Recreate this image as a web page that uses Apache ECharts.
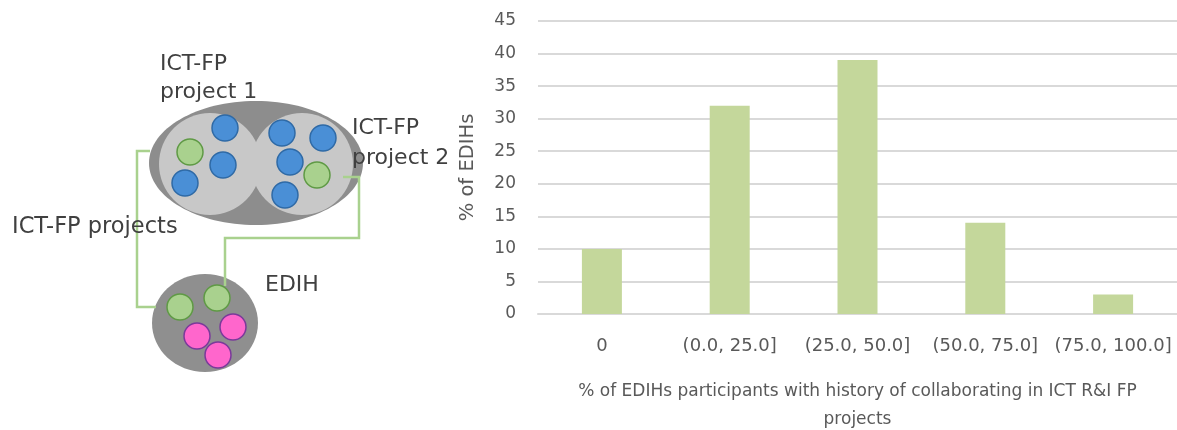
<!DOCTYPE html>
<html>
<head>
<meta charset="utf-8">
<title>EDIH participants with ICT R&amp;I FP history</title>
<script src="https://cdn.jsdelivr.net/npm/echarts@6/dist/echarts.min.js"></script>
<style>
  html, body { margin: 0; padding: 0; background: #ffffff; }
  #chart { width: 1177px; height: 430px; }
</style>
</head>
<body>
<div id="chart"></div>
<script>
// Bar chart data
const categories = ['0', '(0.0, 25.0]', '(25.0, 50.0]', '(50.0, 75.0]', '(75.0, 100.0]'];
const shareOfEdihs = [10, 32, 39, 14, 3];
const yMin = 0;
const yMax = 45;
const yStep = 5;

const xTitle = '% of EDIHs participants with history of collaborating in ICT R&I FP\nprojects';
const yTitle = '% of EDIHs';

// Schematic on the left: two ICT-FP projects sharing members with one EDIH
const FONT = 'DejaVu Sans';
const BLUE = { fill: '#4a8fd6', stroke: '#2f6aa6' };
const GREEN = { fill: '#a9d18e', stroke: '#5f9a45' };
const PINK = { fill: '#ff66cc', stroke: '#7a3a9a' };
const MEMBER_R = 13;

const projectMembers = [
  // project 1
  { cx: 225, cy: 128, c: BLUE }, { cx: 190, cy: 152, c: GREEN },
  { cx: 223, cy: 165, c: BLUE }, { cx: 185, cy: 183, c: BLUE },
  // project 2
  { cx: 282, cy: 133, c: BLUE }, { cx: 323, cy: 138, c: BLUE },
  { cx: 290, cy: 162, c: BLUE }, { cx: 317, cy: 175, c: GREEN },
  { cx: 285, cy: 195, c: BLUE }
];
const edihMembers = [
  { cx: 180, cy: 307, c: GREEN }, { cx: 217, cy: 298, c: GREEN },
  { cx: 233, cy: 327, c: PINK }, { cx: 197, cy: 336, c: PINK },
  { cx: 218, cy: 355, c: PINK }
];

function member(m) {
  return {
    type: 'circle',
    shape: { cx: m.cx, cy: m.cy, r: MEMBER_R },
    style: { fill: m.c.fill, stroke: m.c.stroke, lineWidth: 1.5 },
    silent: true
  };
}

function label(text, x, y, size) {
  return {
    type: 'text',
    x: x, y: y,
    style: {
      text: text, fill: '#404040', font: size + 'px "' + FONT + '"',
      textAlign: 'left', textVerticalAlign: 'middle'
    },
    silent: true
  };
}

const link = { stroke: '#a9d18e', lineWidth: 2.5, fill: null };

const diagram = [
  // project cluster
  { type: 'ellipse', shape: { cx: 256, cy: 163, rx: 107, ry: 62 }, style: { fill: '#8d8d8d' }, silent: true },
  { type: 'circle', shape: { cx: 210, cy: 164, r: 51 }, style: { fill: '#c8c8c8' }, silent: true },
  { type: 'circle', shape: { cx: 302, cy: 164, r: 51 }, style: { fill: '#c8c8c8' }, silent: true },
  // EDIH
  { type: 'ellipse', shape: { cx: 205, cy: 323, rx: 53, ry: 49 }, style: { fill: '#8f8f8f' }, silent: true },
  // connections
  { type: 'polyline', shape: { points: [[150, 151], [137, 151], [137, 307], [156, 307]] }, style: link, silent: true },
  { type: 'polyline', shape: { points: [[343, 177], [359, 177], [359, 238], [225, 238], [225, 286]] }, style: link, silent: true }
]
  .concat(projectMembers.map(member))
  .concat(edihMembers.map(member))
  .concat([
    label('ICT-FP', 160, 64, 22),
    label('project 1', 160, 92, 22),
    label('ICT-FP', 352, 128, 22),
    label('project 2', 352, 158, 22),
    label('ICT-FP projects', 12, 227, 22.5),
    label('EDIH', 265, 285, 22)
  ]);

const chart = echarts.init(document.getElementById('chart'), null, { renderer: 'canvas' });

chart.setOption({
  animation: false,
  backgroundColor: '#ffffff',
  textStyle: { fontFamily: FONT },
  grid: {
    left: 538, right: 0, top: 21, bottom: 116,
    containLabel: false,
    outerBoundsMode: 'none'
  },
  xAxis: {
    type: 'category',
    data: categories,
    axisTick: { show: false },
    axisLine: { lineStyle: { color: '#d9d9d9', width: 2 } },
    axisLabel: { margin: 23, interval: 0, color: '#595959', fontFamily: FONT, fontSize: 18 },
    name: xTitle,
    nameLocation: 'middle',
    nameGap: 64,
    nameTextStyle: { color: '#595959', fontFamily: FONT, fontSize: 17, lineHeight: 28 }
  },
  yAxis: {
    type: 'value',
    min: yMin,
    max: yMax,
    interval: yStep,
    axisLine: { show: false },
    axisTick: { show: false },
    splitLine: { lineStyle: { color: '#d9d9d9', width: 2 } },
    axisLabel: { margin: 22, color: '#595959', fontFamily: FONT, fontSize: 17 },
    name: yTitle,
    nameLocation: 'middle',
    nameGap: 60,
    nameTextStyle: { color: '#595959', fontFamily: FONT, fontSize: 19.5 }
  },
  series: [{
    type: 'bar',
    data: shareOfEdihs,
    barWidth: 40,
    itemStyle: { color: '#c4d79b' },
    emphasis: { disabled: true }
  }],
  graphic: diagram
});
</script>
</body>
</html>
